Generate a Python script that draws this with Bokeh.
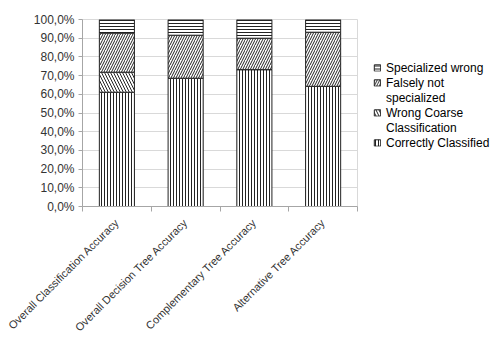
import math
from bokeh.plotting import figure
from bokeh.models import FixedTicker, Legend, LegendItem, ColumnDataSource
from bokeh.embed import file_html
from bokeh.resources import INLINE

# Categories and stacked shares (percent)
categories = [
    "Overall Classification Accuracy",
    "Overall Decision Tree Accuracy",
    "Complementary Tree Accuracy",
    "Alternative Tree Accuracy",
]
correctly_classified = [61.1, 68.6, 73.2, 64.3]
wrong_coarse = [10.7, 0.0, 0.0, 0.0]
falsely_not_specialized = [20.9, 23.0, 16.8, 28.9]
specialized_wrong = [7.3, 8.4, 10.0, 6.8]

# legend text, one list per series (wrapped lines)
series_labels = [
    ["Correctly Classified"],
    ["Wrong Coarse", "Classification"],
    ["Falsely not", "specialized"],
    ["Specialized wrong"],
]
series_keys = ["correct", "coarse", "falsely", "spec"]
hatches = ["|", "\\", "/", "-"]
hatch_scales = [3, 6, 5, 3]

y_ticks = [0, 10, 20, 30, 40, 50, 60, 70, 80, 90, 100]
y_tick_labels = ["0,0%", "10,0%", "20,0%", "30,0%", "40,0%", "50,0%",
                 "60,0%", "70,0%", "80,0%", "90,0%", "100,0%"]

xs = [i + 0.5 for i in range(len(categories))]
src = ColumnDataSource(dict(
    x=xs,
    correct=correctly_classified,
    coarse=wrong_coarse,
    falsely=falsely_not_specialized,
    spec=specialized_wrong,
))

FONT = "Liberation Sans"
TXT = "#333333"

p = figure(frame_width=275, frame_height=187, output_backend="svg",
           toolbar_location=None,
           x_range=(0, len(categories)), y_range=(0, 100),
           min_border_left=82, min_border_right=133,
           min_border_top=19, min_border_bottom=137)
p.outline_line_color = "#d9d9d9"
p.background_fill_color = "white"
p.border_fill_color = "white"

renderers = p.vbar_stack(series_keys, x="x", width=0.51, source=src,
                         fill_color="white", line_color="#222222", line_width=1,
                         hatch_pattern=hatches, hatch_color="#222222",
                         hatch_scale=hatch_scales, hatch_weight=1.0)

# y axis
p.yaxis.ticker = FixedTicker(ticks=y_ticks)
p.yaxis.major_label_overrides = {t: l for t, l in zip(y_ticks, y_tick_labels)}
p.yaxis.axis_line_color = "#a6a6a6"
p.yaxis.major_tick_line_color = "#a6a6a6"
p.yaxis.major_tick_out = 4
p.yaxis.major_tick_in = 0
p.yaxis.minor_tick_line_color = None
p.yaxis.major_label_text_font = FONT
p.yaxis.major_label_text_font_size = "12px"
p.yaxis.major_label_text_color = TXT
p.yaxis.major_label_standoff = 4

# x axis: labels at bar centres, ticks between categories
p.xaxis.ticker = FixedTicker(ticks=xs, minor_ticks=list(range(len(categories) + 1)))
p.xaxis.major_label_overrides = {x: c for x, c in zip(xs, categories)}
p.xaxis.major_label_orientation = math.pi / 4
p.xaxis.axis_line_color = "#a6a6a6"
p.xaxis.major_tick_line_color = None
p.xaxis.minor_tick_line_color = "#a6a6a6"
p.xaxis.minor_tick_out = 5
p.xaxis.minor_tick_in = 0
p.xaxis.major_label_text_font = FONT
p.xaxis.major_label_text_font_size = "11px"
p.xaxis.major_label_text_color = TXT
p.xaxis.major_label_standoff = 8

p.xgrid.grid_line_color = None
p.ygrid.ticker = FixedTicker(ticks=y_ticks)
p.ygrid.grid_line_color = "#d9d9d9"

# invisible renderer used for continuation lines of wrapped legend labels
blank = p.vbar(x=[], top=[], width=0.5, fill_color=None, line_color=None)

items = []
for lines, r in reversed(list(zip(series_labels, renderers))):
    items.append(LegendItem(label=lines[0], renderers=[r]))
    for extra in lines[1:]:
        items.append(LegendItem(label=extra, renderers=[blank]))
# trailing empty row lifts the block slightly within the side panel
items.append(LegendItem(label=" ", renderers=[blank]))

legend = Legend(items=items, location="center_left", orientation="vertical",
                background_fill_alpha=0, border_line_color=None,
                label_text_font=FONT, label_text_font_size="12px",
                label_text_color="black", label_text_line_height=1.0,
                glyph_width=8, glyph_height=8, spacing=0, padding=0,
                margin=16, label_standoff=5, label_height=15,
                label_text_baseline="middle")
p.add_layout(legend, "right")

open("out.html", "w").write(file_html(p, INLINE))
